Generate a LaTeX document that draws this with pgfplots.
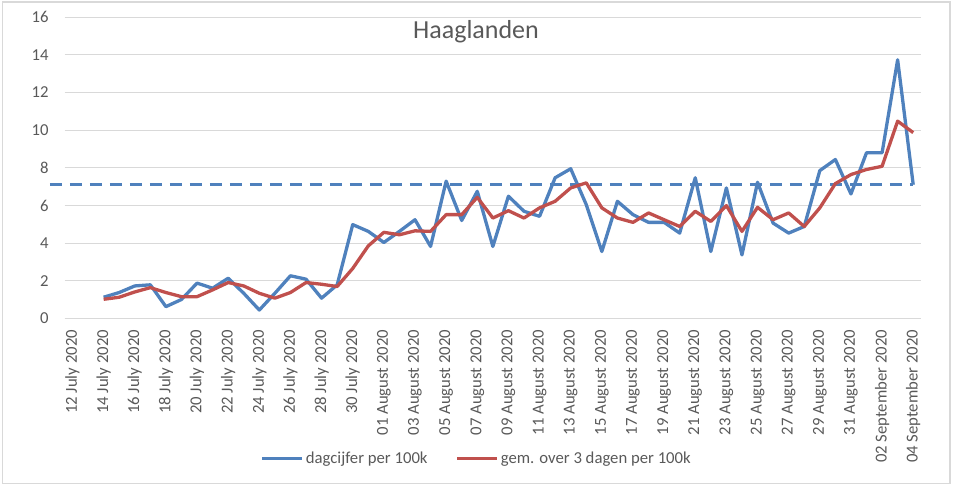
\documentclass[border=0pt]{standalone}
\usepackage{fontspec}
\setmainfont{Carlito}
\usepackage{pgfplots}
\pgfplotsset{compat=1.18}
\definecolor{xblue}{HTML}{4F81BD}
\definecolor{xred}{HTML}{C0504D}
\definecolor{xgrid}{HTML}{D9D9D9}
\definecolor{xtick}{HTML}{C4C4C4}
\definecolor{xtext}{HTML}{595959}
\pgfplotstableread{
i blue red
2 1.12 1.01
3 1.37 1.12
4 1.72 1.40
5 1.78 1.63
6 0.62 1.37
7 1.00 1.15
8 1.87 1.15
9 1.60 1.51
10 2.13 1.90
11 1.33 1.72
12 0.44 1.33
13 1.33 1.07
14 2.26 1.37
15 2.08 1.90
16 1.07 1.81
17 1.78 1.69
18 4.98 2.65
19 4.62 3.85
20 4.03 4.57
21 4.62 4.44
22 5.24 4.65
23 3.82 4.62
24 7.29 5.51
25 5.20 5.51
26 6.75 6.43
27 3.82 5.33
28 6.49 5.72
29 5.69 5.33
30 5.42 5.87
31 7.47 6.22
32 7.95 6.93
33 6.04 7.20
34 3.55 5.87
35 6.22 5.33
36 5.51 5.10
37 5.10 5.60
38 5.10 5.24
39 4.53 4.88
40 7.47 5.69
41 3.55 5.15
42 6.93 5.99
43 3.37 4.62
44 7.23 5.90
45 5.06 5.24
46 4.53 5.60
47 4.88 4.88
48 7.85 5.87
49 8.44 7.16
50 6.61 7.64
51 8.80 7.91
52 8.80 8.08
53 13.74 10.48
54 7.10 9.87
}\datatable
\begin{document}
\begin{tikzpicture}
\useasboundingbox (0bp,0bp) rectangle (953bp,486bp);
\draw[xgrid, line width=1.2bp] (2.5bp,2.5bp) rectangle (950bp,484bp);
\node[anchor=base, text=xtext, font=\fontsize{26bp}{30bp}\selectfont] at (476bp,447.7bp) {Haaglanden};
\begin{axis}[
  at={(64.7bp,167.7bp)}, anchor=south west,
  scale only axis, width=856.3bp, height=301bp,
  xmin=-0.5, xmax=54.5, ymin=0, ymax=16,
  clip=false,
  ytick={0,2,...,16},
  ymajorgrids, grid style={xgrid, line width=1bp},
  axis x line*=bottom, axis y line*=left,
  x axis line style={xgrid, line width=1bp},
  y axis line style={draw=none},
  ytick style={draw=none},
  xtick style={draw=none},
  xtick={0,2,...,54},
  xticklabels={12 July 2020,14 July 2020,16 July 2020,18 July 2020,20 July 2020,22 July 2020,24 July 2020,26 July 2020,28 July 2020,30 July 2020,01 August 2020,03 August 2020,05 August 2020,07 August 2020,09 August 2020,11 August 2020,13 August 2020,15 August 2020,17 August 2020,19 August 2020,21 August 2020,23 August 2020,25 August 2020,27 August 2020,29 August 2020,31 August 2020,02 September 2020,04 September 2020},
  extra x ticks={-0.5,1.5,...,53.5},
  extra x tick labels={},
  extra x tick style={grid=none, tick align=outside, major tick length=5bp, tick style={draw=xtick, line width=1bp}},
  /pgf/number format/assume math mode=true,
  ticklabel style={font=\fontsize{16.7bp}{20bp}\selectfont, text=xtext},
  xticklabel style={rotate=90, anchor=east, inner xsep=11.5bp},
  yticklabel style={inner xsep=16bp},
  legend style={at={(0.4811,-0.4651)}, anchor=center, draw=none, fill=none,
    font=\fontsize{16.7bp}{20bp}\selectfont, text=xtext,
    /tikz/every even column/.append style={column sep=26bp}},
  legend columns=2,
  legend image code/.code={\draw[#1] (0bp,0bp) -- (40bp,0bp);},
]
\addplot[xblue, line width=3bp, dash pattern=on 12bp off 8bp, forget plot] coordinates {(-1.45,7.1) (54,7.1)};
\addplot[xblue, line width=3.3bp, line join=round] table[x=i, y=blue] {\datatable};
\addlegendentry{dagcijfer per 100k}
\addplot[xred, line width=3.3bp, line join=round] table[x=i, y=red] {\datatable};
\addlegendentry{gem. over 3 dagen per 100k}
\end{axis}
\end{tikzpicture}
\end{document}
